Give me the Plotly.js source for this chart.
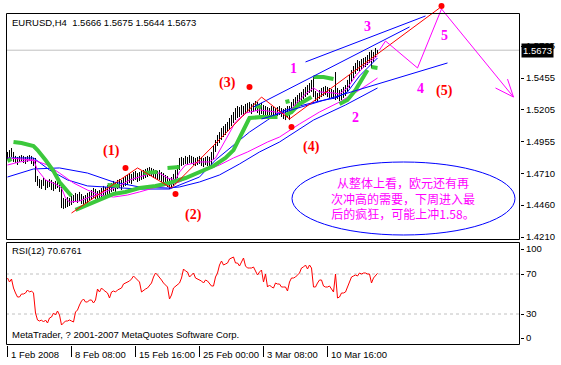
<!DOCTYPE html>
<html><head><meta charset="utf-8">
<script src="https://cdn.plot.ly/plotly-3.0.1.min.js"></script>
<style>html,body{margin:0;padding:0;background:#fff;}#chart{width:561px;height:365px;}</style>
</head><body><div id="chart"></div>
<script>
// ---------- DATA ----------
const barHigh = [1.4876,1.4891,1.4907,1.4876,1.4845,1.4837,1.4845,1.4852,1.4845,1.4837,
1.4845,1.4852,1.4845,1.4829,1.4829,1.4688,1.4664,1.4657,1.4672,1.4657,
1.4649,1.4664,1.4657,1.4641,1.4649,1.4657,1.4633,1.4633,1.4516,1.4508,
1.4523,1.4516,1.4531,1.4539,1.4555,1.4547,1.4563,1.4547,1.4531,1.4539,
1.4555,1.4563,1.4578,1.4594,1.4586,1.4570,1.4578,1.4594,1.4610,1.4602,
1.4617,1.4625,1.4633,1.4649,1.4641,1.4657,1.4664,1.4657,1.4672,1.4688,
1.4696,1.4711,1.4704,1.4719,1.4727,1.4711,1.4719,1.4727,1.4735,1.4743,
1.4751,1.4758,1.4751,1.4743,1.4735,1.4727,1.4735,1.4719,1.4711,1.4696,
1.4688,1.4672,1.4680,1.4704,1.4735,1.4774,1.4829,1.4837,1.4829,1.4845,
1.4837,1.4852,1.4845,1.4837,1.4829,1.4837,1.4845,1.4837,1.4829,1.4837,
1.4845,1.4837,1.4876,1.4923,1.4970,1.5009,1.5032,1.5064,1.5079,1.5095,
1.5111,1.5142,1.5166,1.5189,1.5220,1.5236,1.5228,1.5244,1.5236,1.5252,
1.5260,1.5267,1.5252,1.5260,1.5275,1.5267,1.5252,1.5260,1.5244,1.5236,
1.5228,1.5220,1.5236,1.5228,1.5220,1.5228,1.5236,1.5220,1.5213,1.5220,
1.5236,1.5236,1.5267,1.5291,1.5306,1.5322,1.5338,1.5346,1.5369,1.5385,
1.5400,1.5416,1.5440,1.5463,1.5353,1.5338,1.5361,1.5377,1.5385,1.5393,
1.5385,1.5377,1.5369,1.5361,1.5502,1.5377,1.5361,1.5369,1.5385,1.5400,
1.5440,1.5479,1.5518,1.5549,1.5573,1.5596,1.5588,1.5604,1.5612,1.5620,
1.5635,1.5659,1.5674,1.5659,1.5690,1.5675];
const barLow = [1.4813,1.4829,1.4837,1.4798,1.4790,1.4774,1.4798,1.4805,1.4790,1.4782,
1.4798,1.4805,1.4782,1.4766,1.4641,1.4610,1.4594,1.4586,1.4610,1.4578,
1.4594,1.4602,1.4578,1.4570,1.4586,1.4594,1.4563,1.4437,1.4430,1.4437,
1.4445,1.4453,1.4461,1.4477,1.4484,1.4477,1.4492,1.4469,1.4461,1.4469,
1.4477,1.4492,1.4500,1.4516,1.4508,1.4492,1.4500,1.4516,1.4531,1.4523,
1.4539,1.4547,1.4563,1.4570,1.4563,1.4586,1.4594,1.4578,1.4602,1.4610,
1.4617,1.4633,1.4625,1.4649,1.4657,1.4641,1.4649,1.4657,1.4664,1.4672,
1.4680,1.4688,1.4688,1.4672,1.4664,1.4657,1.4657,1.4641,1.4633,1.4617,
1.4602,1.4586,1.4594,1.4610,1.4625,1.4672,1.4735,1.4766,1.4774,1.4782,
1.4774,1.4790,1.4782,1.4774,1.4766,1.4774,1.4782,1.4766,1.4758,1.4774,
1.4766,1.4758,1.4766,1.4813,1.4876,1.4923,1.4946,1.4970,1.4993,1.5009,
1.5032,1.5048,1.5079,1.5103,1.5126,1.5142,1.5150,1.5166,1.5158,1.5173,
1.5181,1.5189,1.5173,1.5189,1.5197,1.5181,1.5166,1.5173,1.5166,1.5158,
1.5150,1.5142,1.5158,1.5150,1.5142,1.5158,1.5166,1.5150,1.5134,1.5126,
1.5142,1.5126,1.5181,1.5205,1.5228,1.5244,1.5260,1.5275,1.5291,1.5306,
1.5322,1.5338,1.5346,1.5306,1.5275,1.5267,1.5291,1.5306,1.5314,1.5322,
1.5306,1.5299,1.5299,1.5291,1.5283,1.5291,1.5275,1.5283,1.5299,1.5314,
1.5346,1.5377,1.5424,1.5455,1.5487,1.5510,1.5502,1.5518,1.5534,1.5541,
1.5557,1.5573,1.5534,1.5581,1.5620,1.5644];
const rsiValues = [66,62,65,56,51,47,47,50,50,51,54,52,53,51,31,24,23,24,22,24,
21,26,27,31,29,33,29,19,21,23,23,24,23,22,32,34,39,43,45,42,
42,44,44,41,44,55,52,56,54,52,51,46,52,53,52,54,55,56,60,61,
62,63,65,68,66,64,62,52,54,55,56,58,61,67,71,69,67,64,61,59,
57,45,49,56,58,59,61,66,75,73,72,67,69,71,66,65,64,63,61,64,
63,61,58,58,67,71,79,83,79,80,81,85,86,87,81,81,78,82,86,78,
76,76,76,77,72,69,72,74,62,70,57,59,57,56,61,60,60,57,57,57,
53,62,66,66,67,69,71,76,77,79,75,79,76,57,57,61,64,64,58,57,
57,58,55,52,70,46,47,51,51,52,57,62,67,68,69,68,71,70,71,71,
70,70,61,66,69,70.6761];
const lastOhlc = [1.5666, 1.5675, 1.5644, 1.5673];
const symbolName = 'EURUSD,H4';
const rsiName = 'RSI(12)';
const priceTicks = [1.5705,1.5455,1.5205,1.4955,1.4710,1.4460,1.4210];
const rsiTickVals = [95,70,30,6];
const rsiTickText = ['100','70','30','0'];
const rsiLevels = [70,30];
const timeTickBars = [0,32,64,96,128,160];
const timeTickLabels = ['1 Feb 2008','8 Feb 08:00','15 Feb 16:00','25 Feb 00:00','3 Mar 08:00','10 Mar 16:00'];

// indicator lines (bar index, price)
const slowBlueBars = [0,13,26,40,53,66,80,86,96,106,116,126,136,153,169,185];
const slowBluePrices = [1.4680,1.4743,1.4751,1.4711,1.4641,1.4602,1.4594,1.4602,1.4641,1.4696,1.4782,1.4876,1.4954,1.5126,1.5244,1.5377];
const fastBlueBars = [0,13,21,30,40,56,66,81,96,104,109,114,121,130,136,146,156,164,170,176,183,185];
const fastBluePrices = [1.4829,1.4829,1.4735,1.4657,1.4610,1.4594,1.4586,1.4586,1.4680,1.4813,1.4876,1.4946,1.5032,1.5126,1.5189,1.5236,1.5275,1.5299,1.5346,1.5471,1.5581,1.5612];
const slowMagBars = [0,6,13,20,26,33,40,46,53,60,66,73,80,86,93,100,106,113,120,130,136,146,156,166,176,185];
const slowMagPrices = [1.4774,1.4798,1.4813,1.4774,1.4711,1.4633,1.4578,1.4539,1.4523,1.4539,1.4563,1.4594,1.4617,1.4641,1.4696,1.4735,1.4774,1.4829,1.4876,1.4954,1.4993,1.5095,1.5189,1.5267,1.5361,1.5455];
const fastMagBars = [0,6,13,15,19,24,27,29,31,36,41,46,51,56,61,66,71,76,80,84,86,89,96,101,104,109,114,119,126,134,140,144,149,153,156,163,166,170,174,179,185];
const fastMagPrices = [1.4829,1.4821,1.4813,1.4735,1.4657,1.4625,1.4594,1.4516,1.4484,1.4492,1.4523,1.4547,1.4578,1.4610,1.4657,1.4680,1.4704,1.4711,1.4672,1.4657,1.4719,1.4774,1.4798,1.4798,1.4829,1.4970,1.5111,1.5181,1.5205,1.5189,1.5173,1.5252,1.5330,1.5377,1.5346,1.5338,1.5330,1.5377,1.5471,1.5557,1.5628];
const sarBars = [0,2,null,3,7,13,15,19,23,26,30,32,null,34,40,46,53,59,66,74,81,89,96,103,109,113,118,121,127,135,null,139,142,146,149,152,null,153,158,163,null,166,170,174,177,180,null,182,185,null,50,56,null,68,75,null,80,86,null,124,127,null,139,141];
const sarPrices = [1.4805,1.4821,null,1.4954,1.4946,1.4923,1.4891,1.4813,1.4727,1.4641,1.4563,1.4531,null,1.4422,1.4461,1.4508,1.4547,1.4563,1.4594,1.4610,1.4633,1.4672,1.4719,1.4766,1.4829,1.4891,1.5048,1.5142,1.5150,1.5150,null,1.5166,1.5189,1.5252,1.5283,1.5306,null,1.5463,1.5463,1.5447,null,1.5252,1.5283,1.5361,1.5440,1.5518,null,1.5541,1.5534,null,1.4617,1.4610,null,1.4711,1.4719,null,1.4751,1.4758,null,1.5236,1.5228,null,1.5267,1.5275];
// channel lines
const channelBars = [123,201,null,149,209,null,127,220];
const channelPrices = [1.5228,1.5855,null,1.5581,1.5941,null,1.5134,1.5573];
// Elliott wave count
const waveBars = [32,65,82,127,141,216];
const wavePrices = [1.4398,1.4751,1.4594,1.5306,1.5134,1.6003];
const waveDotBars = [59,84,121,142,217];
const waveDotPrices = [1.4751,1.4547,1.5385,1.5072,1.6019];
const forecastBars = [186,189,205,217,253];
const forecastPrices = [1.5675,1.5745,1.5534,1.5996,1.5306];
const arrowBars = [244,253,250];
const arrowPrices = [1.5377,1.5306,1.5447];
const waveLabels = ['(1)','(2)','(3)','(4)','(5)'];
const subWaveLabels = ['1','2','3','4','5'];
const noteLines = ['从整体上看，欧元还有再','次冲高的需要，下周进入最','后的疯狂，可能上冲1.58。'];
const copyright = 'MetaTrader, ? 2001-2007 MetaQuotes Software Corp.';

// ---------- LAYOUT HELPERS ----------
const W = 561, H = 365, L = 6, R = 41, B = 20;
const PW = W - L - R, PH = H - B;
const px = x => (x - L) / PW;
const py = y => (PH - y) / PH;
const FONT = 'Liberation Sans, Arial, sans-serif';
const SERIF = 'Liberation Serif, Times New Roman, serif';

const stickX = [], stickY = [];
for (let i = 0; i < barHigh.length; i++) {
  stickX.push(i, i, null);
  stickY.push(barLow[i], barHigh[i], null);
}
const rsiX = rsiValues.map((v, i) => i);

const traces = [
  {x: stickX, y: stickY, mode: 'lines', line: {color: '#000', width: 1}, hoverinfo: 'skip'},
  {x: slowBlueBars, y: slowBluePrices, mode: 'lines', line: {color: '#0000ff', width: 1}},
  {x: fastBlueBars, y: fastBluePrices, mode: 'lines', line: {color: '#0000ff', width: 1}},
  {x: slowMagBars, y: slowMagPrices, mode: 'lines', line: {color: '#ff00ff', width: 1}},
  {x: fastMagBars, y: fastMagPrices, mode: 'lines', line: {color: '#ff00ff', width: 1}},
  {x: sarBars, y: sarPrices, mode: 'lines', connectgaps: false, line: {color: '#3cc83c', width: 4}},
  {x: channelBars, y: channelPrices, mode: 'lines', connectgaps: false, line: {color: '#0000ff', width: 1}},
  {x: waveBars, y: wavePrices, mode: 'lines', line: {color: '#ff0000', width: 1}},
  {x: forecastBars, y: forecastPrices, mode: 'lines', line: {color: '#ff00ff', width: 1}},
  {x: arrowBars, y: arrowPrices, mode: 'lines', line: {color: '#ff00ff', width: 1}},
  {x: waveDotBars, y: waveDotPrices, mode: 'markers', marker: {color: '#ff0000', size: 6}},
  {x: rsiX, y: rsiValues, yaxis: 'y2', mode: 'lines', line: {color: '#ff0000', width: 1}}
];

const ann = [];
ann.push({xref: 'paper', yref: 'paper', x: px(10), y: py(22), xanchor: 'left', yanchor: 'middle', showarrow: false,
  text: symbolName + '\u00a0\u00a0' + lastOhlc.map(v => v.toFixed(4)).join(' '), font: {family: FONT, size: 9.5, color: '#000'}});
ann.push({xref: 'paper', yref: 'paper', x: px(10), y: py(251), xanchor: 'left', yanchor: 'middle', showarrow: false,
  text: rsiName + ' ' + rsiValues[rsiValues.length - 1].toFixed(4), font: {family: FONT, size: 9.5, color: '#000'}});
ann.push({xref: 'paper', yref: 'paper', x: px(10), y: py(334), xanchor: 'left', yanchor: 'middle', showarrow: false,
  text: copyright, font: {family: FONT, size: 9.5, color: '#000'}});
timeTickBars.forEach((b, i) => ann.push({xref: 'x', yref: 'paper', x: b, y: py(354), xanchor: 'left', yanchor: 'middle',
  xshift: 1, showarrow: false, text: timeTickLabels[i], font: {family: FONT, size: 9.5, color: '#000'}}));
ann.push({xref: 'paper', yref: 'y', x: 1, y: lastOhlc[3], xanchor: 'left', yanchor: 'middle', xshift: 1, showarrow: false,
  text: lastOhlc[3].toFixed(4), bgcolor: '#000', borderpad: 1, font: {family: FONT, size: 9.5, color: '#fff'}});
const wavePos = [[111,151],[193,215],[227,83],[311,147],[444,91]];
waveLabels.forEach((t, i) => ann.push({xref: 'paper', yref: 'paper', x: px(wavePos[i][0]), y: py(wavePos[i][1]),
  xanchor: 'center', yanchor: 'middle', showarrow: false, text: '<b>' + t + '</b>', font: {family: SERIF, size: 14, color: '#ff0000'}}));
const subPos = [[293,69],[355,117],[367,27],[420,88],[444,35]];
subWaveLabels.forEach((t, i) => ann.push({xref: 'paper', yref: 'paper', x: px(subPos[i][0]), y: py(subPos[i][1]),
  xanchor: 'center', yanchor: 'middle', showarrow: false, text: '<b>' + t + '</b>', font: {family: SERIF, size: 14, color: '#ff00ff'}}));
ann.push({xref: 'paper', yref: 'paper', x: px(403), y: py(198), xanchor: 'center', yanchor: 'middle', showarrow: false,
  text: noteLines.join('<br>'), font: {family: 'Noto Sans CJK SC, sans-serif', size: 12, color: '#ff00ff'}});

const shapes = [
  {type: 'line', xref: 'paper', yref: 'y', x0: 0, x1: 1, y0: lastOhlc[3], y1: lastOhlc[3], line: {color: '#c0c0c0', width: 1}, layer: 'below'},
  {type: 'rect', xref: 'paper', yref: 'paper', x0: px(6.5), x1: px(519.5), y0: py(239.5), y1: py(13.5), line: {color: '#000', width: 1}},
  {type: 'rect', xref: 'paper', yref: 'paper', x0: px(6.5), x1: px(519.5), y0: py(344.5), y1: py(242.5), line: {color: '#000', width: 1}},
  {type: 'circle', xref: 'paper', yref: 'paper', x0: px(292), x1: px(515), y0: py(235), y1: py(162), line: {color: '#0000ff', width: 1}}
];
rsiLevels.forEach(v => shapes.push({type: 'line', xref: 'paper', yref: 'y2', x0: 0, x1: 1, y0: v, y1: v,
  line: {color: '#c0c0c0', width: 1, dash: '3px,3px'}, layer: 'below'}));

const layout = {
  width: W, height: H, margin: {l: L, r: R, t: 0, b: B, pad: 0},
  paper_bgcolor: '#fff', plot_bgcolor: '#fff', showlegend: false,
  xaxis: {range: [-0.75, 256.25], anchor: 'y2', showgrid: false, zeroline: false, showline: false,
    tickvals: timeTickBars, ticks: 'outside', ticklen: 11, tickcolor: '#000', showticklabels: false, fixedrange: true},
  yaxis: {domain: [py(240), 1], range: [1.41868, 1.6066], side: 'right', anchor: 'x', showgrid: false, zeroline: false,
    showline: false, tickvals: priceTicks, ticktext: priceTicks.map(v => v.toFixed(4)), ticks: 'outside', ticklen: 3,
    tickcolor: '#000', tickfont: {family: FONT, size: 9.5, color: '#000'}},
  yaxis2: {domain: [0, py(243)], range: [-1, 101], side: 'right', anchor: 'x', showgrid: false, zeroline: false,
    showline: false, tickvals: rsiTickVals, ticktext: rsiTickText, ticks: 'outside', ticklen: 3, tickcolor: '#000',
    tickfont: {family: FONT, size: 9.5, color: '#000'}},
  annotations: ann, shapes: shapes
};
Plotly.newPlot('chart', traces, layout, {displayModeBar: false, staticPlot: true});
</script></body></html>
